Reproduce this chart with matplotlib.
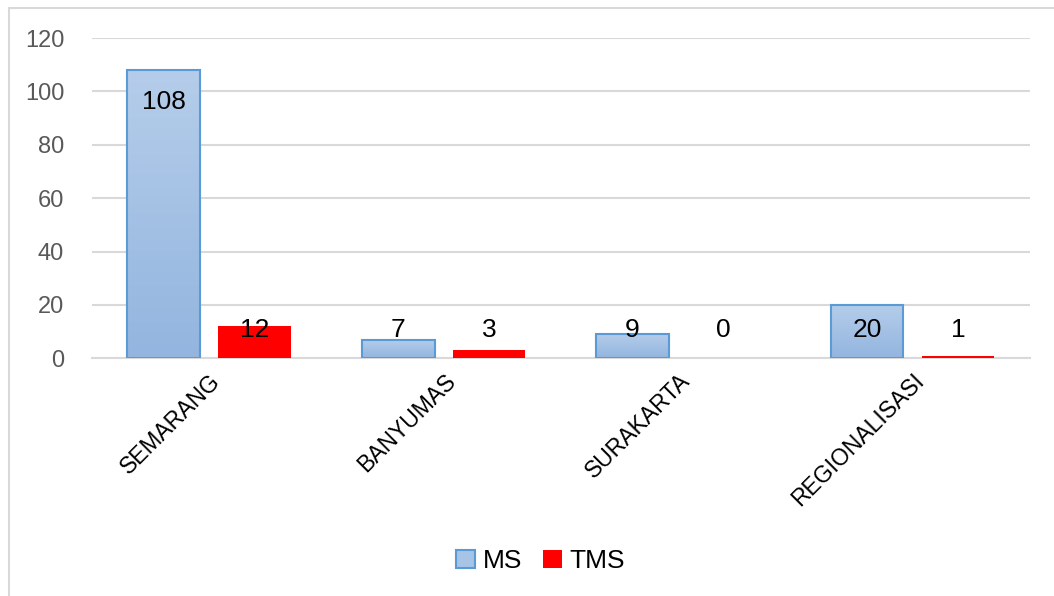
import numpy as np
import matplotlib
matplotlib.use("Agg")
import matplotlib.pyplot as plt
from matplotlib.patches import Rectangle, Patch
from matplotlib.colors import LinearSegmentedColormap

# data
categories = ["SEMARANG", "BANYUMAS", "SURAKARTA", "REGIONALISASI"]
ms_values = [108, 7, 9, 20]
tms_values = [12, 3, 0, 1]
y_ticks = [0, 20, 40, 60, 80, 100, 120]

plt.rcParams["font.family"] = ["Liberation Sans", "DejaVu Sans"]

fig = plt.figure(figsize=(10.54, 5.96), dpi=100)
ax = fig.add_axes([0.0873, 0.399, 0.8897, 0.537])

x = np.arange(len(categories))
width = 0.31
off = 0.194

grad = LinearSegmentedColormap.from_list("ms", ["#93b5df", "#b5cdea"])
gimg = np.linspace(0, 1, 256).reshape(-1, 1)

ms_bars = ax.bar(x - off, ms_values, width, color="none", edgecolor="#5b9bd5",
                 linewidth=1.5, zorder=3)
for b in ms_bars:
    h = b.get_height()
    if h <= 0:
        continue
    im = ax.imshow(gimg, cmap=grad, aspect="auto", origin="lower",
                   extent=[b.get_x(), b.get_x() + b.get_width(), 0, h], zorder=2)
    im.set_clip_path(b)

ax.bar(x + off, tms_values, width, color="#ff0000", zorder=3)

# value labels (short bars get their label lifted above the base)
for xi, v in zip(x, ms_values):
    yl = v - 12 if v > 25 else 10.5
    ax.text(xi - off, yl, str(v), ha="center", va="center", fontsize=19, zorder=5)
for xi, v in zip(x, tms_values):
    ax.text(xi + off, 10.5, str(v), ha="center", va="center", fontsize=19, zorder=5)

ax.set_xlim(-0.5, len(categories) - 0.5)
ax.set_ylim(0, 120)
ax.set_yticks(y_ticks)
ax.yaxis.grid(True, color="#d9d9d9", linewidth=1.5, zorder=0)
ax.set_axisbelow(True)
for s in ["top", "right", "left"]:
    ax.spines[s].set_visible(False)
ax.spines["bottom"].set_color("#d9d9d9")
ax.spines["bottom"].set_linewidth(1.5)
ax.tick_params(axis="y", length=0, pad=20, labelsize=17, labelcolor="#595959")
ax.tick_params(axis="x", length=0, pad=8)
ax.set_xticks(x)
ax.set_xticklabels(categories, rotation=45, ha="right", rotation_mode="anchor",
                   fontsize=16.5)

handles = [Patch(facecolor="#a7c3e6", edgecolor="#5b9bd5", linewidth=1.5),
           Patch(facecolor="#ff0000")]
fig.legend(handles, ["MS", "TMS"], loc="center", bbox_to_anchor=(0.513, 0.058),
           ncol=2, frameon=False, fontsize=19, handlelength=0.7, handleheight=0.7,
           handletextpad=0.3, columnspacing=0.8)

# chart border
fig.patches.append(Rectangle((9 / 1054, -0.01), 1.05, 1 - 8 / 596 + 0.01,
                             transform=fig.transFigure, fill=False,
                             edgecolor="#d9d9d9", linewidth=1.5))

fig.savefig("out.png", dpi=100)
